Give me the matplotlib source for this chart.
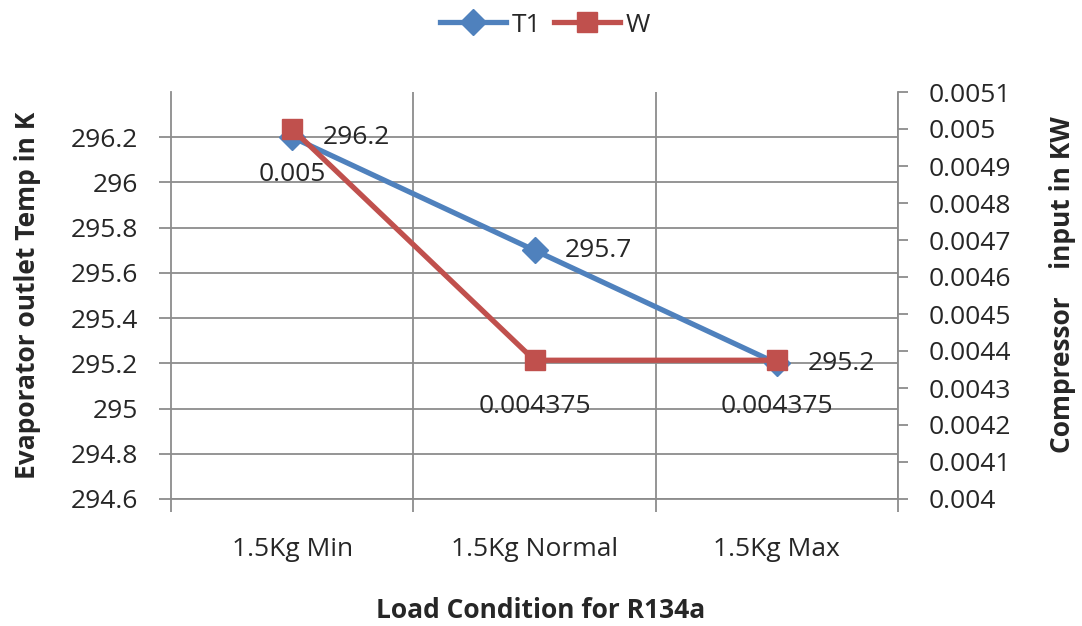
import matplotlib
matplotlib.use("Agg")
import matplotlib.pyplot as plt
from matplotlib.ticker import FixedLocator, FixedFormatter

categories = ["1.5Kg Min", "1.5Kg Normal", "1.5Kg Max"]
t1_values = [296.2, 295.7, 295.2]
w_values = [0.005, 0.004375, 0.004375]
t1_labels = ["296.2", "295.7", "295.2"]
w_labels = ["0.005", "0.004375", "0.004375"]
left_ticks = [294.6, 294.8, 295.0, 295.2, 295.4, 295.6, 295.8, 296.0, 296.2]
left_ticklabels = ["294.6", "294.8", "295", "295.2", "295.4", "295.6", "295.8", "296", "296.2"]
right_ticks = [0.004, 0.0041, 0.0042, 0.0043, 0.0044, 0.0045, 0.0046, 0.0047, 0.0048, 0.0049, 0.005, 0.0051]
right_ticklabels = ["0.004", "0.0041", "0.0042", "0.0043", "0.0044", "0.0045", "0.0046", "0.0047", "0.0048", "0.0049", "0.005", "0.0051"]

plt.rcParams['font.family'] = ['Open Sans', 'DejaVu Sans']

BLUE = "#4F81BD"
RED = "#C0504D"
GRID = "#8c8c8c"
TXT = "#262626"
FS = 19

W_PX, H_PX = 1082, 626
fig = plt.figure(figsize=(W_PX / 100, H_PX / 100), dpi=100)
ax = fig.add_axes([171 / W_PX, 1 - 499 / H_PX, (898 - 171) / W_PX, (499 - 92) / H_PX])
ax2 = ax.twinx()

x = list(range(len(categories)))
ax.set_xlim(-0.5, len(categories) - 0.5)
ax.set_ylim(294.6, 296.4)
ax2.set_ylim(0.004, 0.0051)

for v in left_ticks:
    ax.axhline(v, color=GRID, lw=1.3, zorder=0)
for b in [0.5, 1.5, 2.5]:
    ax.axvline(b, color=GRID, lw=1.3, zorder=0)

l1, = ax.plot(x, t1_values, color=BLUE, lw=3.8, marker="D", markersize=13,
              markerfacecolor=BLUE, markeredgecolor=BLUE, zorder=3, label="T1")
l2, = ax2.plot(x, w_values, color=RED, lw=3.8, marker="s", markersize=15,
               markerfacecolor=RED, markeredgecolor=RED, zorder=3, label="W")

for xi, yi, s in zip(x, t1_values, t1_labels):
    ax.annotate(s, (xi, yi), xytext=(22, 0), textcoords="offset points",
                ha="left", va="center", fontsize=FS, color=TXT, zorder=5)
for xi, yi, s in zip(x, w_values, w_labels):
    ax2.annotate(s, (xi, yi), xytext=(0, -33), textcoords="offset points",
                 ha="center", va="center", fontsize=FS, color=TXT, zorder=5)

ax.set_xticks([-0.5, 0.5, 1.5, 2.5])
ax.set_xticklabels([])
ax.set_xticks(x, categories, minor=True, fontsize=FS, color=TXT)
ax.tick_params(axis="x", which="major", length=9, width=1.3, color=GRID, direction="out")
ax.tick_params(axis="x", which="minor", length=0, pad=27)

ax.yaxis.set_major_locator(FixedLocator(left_ticks))
ax.yaxis.set_major_formatter(FixedFormatter(left_ticklabels))
ax.tick_params(axis="y", length=9, width=1.3, color=GRID, labelsize=FS, labelcolor=TXT, pad=15)

ax2.yaxis.set_major_locator(FixedLocator(right_ticks))
ax2.yaxis.set_major_formatter(FixedFormatter(right_ticklabels))
ax2.tick_params(axis="y", length=7, width=1.3, color=GRID, labelsize=FS, labelcolor=TXT, pad=15)

for a in (ax, ax2):
    for sp in a.spines.values():
        sp.set_visible(False)
for a, side in ((ax, "left"), (ax, "bottom"), (ax2, "right")):
    a.spines[side].set_visible(True)
    a.spines[side].set_color(GRID)
    a.spines[side].set_linewidth(1.3)

fig.text(541 / W_PX, 1 - 610 / H_PX, "Load Condition for R134a", fontsize=FS, fontweight="bold",
         color=TXT, ha="center", va="center")
fig.text(28 / W_PX, 1 - 295 / H_PX, "Evaporator outlet Temp in K", fontsize=FS, fontweight="bold",
         color=TXT, ha="center", va="center", rotation=90)
fig.text(1062 / W_PX, 1 - 285 / H_PX, "Compressor    input in KW", fontsize=FS, fontweight="bold",
         color=TXT, ha="center", va="center", rotation=90)

fig.legend([l1, l2], ["T1", "W"], loc="center", bbox_to_anchor=(545 / W_PX, 1 - 25 / H_PX), ncol=2,
           frameon=False, fontsize=FS, handlelength=2.5, columnspacing=0.5, handletextpad=0.2,
           labelcolor=TXT)

fig.savefig("out.png", dpi=100)
